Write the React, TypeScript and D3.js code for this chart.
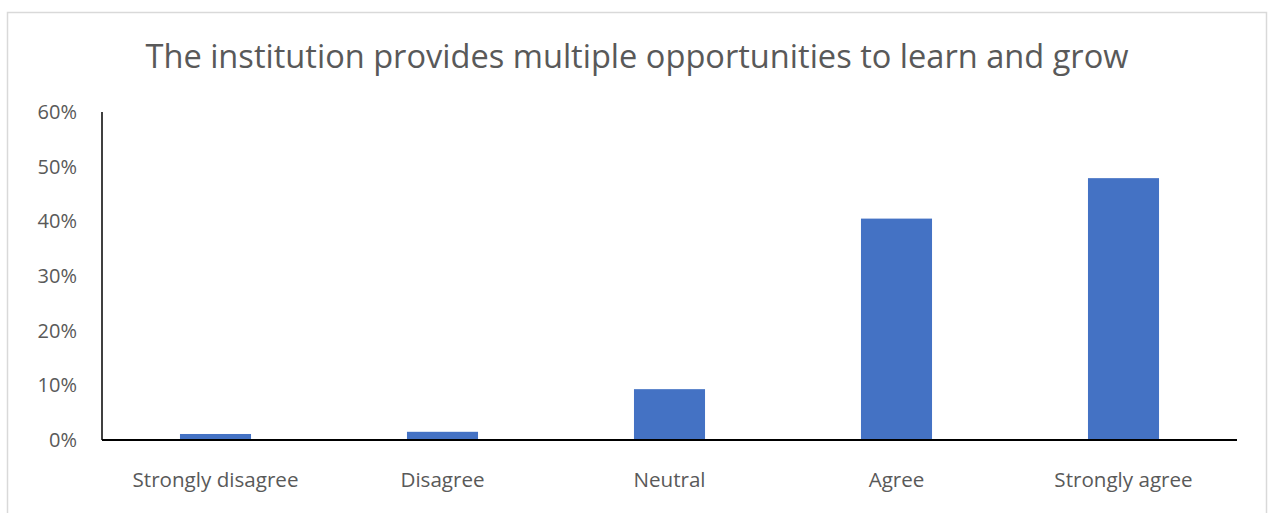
import React, { useEffect, useRef } from "react";
import * as d3 from "d3";

const categories = ["Strongly disagree", "Disagree", "Neutral", "Agree", "Strongly agree"];
const values = [0.011, 0.015, 0.093, 0.405, 0.479];
const yTicks = [0, 0.1, 0.2, 0.3, 0.4, 0.5, 0.6];
const title = "The institution provides multiple opportunities to learn and grow";

const W = 1268;
const H = 513;
const margin = { left: 102, right: 31, top: 112, bottom: 73 };
const FONT = "'Open Sans', sans-serif";
const TEXT = "#595959";

export default function App() {
  const ref = useRef<SVGSVGElement | null>(null);
  useEffect(() => {
    const svg = d3.select(ref.current);
    svg.selectAll("*").remove();

    svg.append("rect").attr("width", W).attr("height", H).attr("fill", "#fff");
    svg.append("rect")
      .attr("x", 7.5).attr("y", 12.5).attr("width", 1259).attr("height", 520)
      .attr("fill", "none").attr("stroke", "#d9d9d9").attr("stroke-width", 1.5);

    const x = d3.scaleBand<string>()
      .domain(categories)
      .range([margin.left, W - margin.right])
      .paddingInner(0.687).paddingOuter(0.3435);
    const y = d3.scaleLinear().domain([0, 0.6]).range([H - margin.bottom, margin.top]);

    svg.append("text")
      .attr("x", 637).attr("y", 68)
      .attr("text-anchor", "middle")
      .attr("font-family", FONT).attr("font-size", 32.6)
      .attr("fill", TEXT)
      .text(title);

    svg.append("g").selectAll("rect").data(values).join("rect")
      .attr("x", (_d, i) => x(categories[i])!)
      .attr("width", x.bandwidth())
      .attr("y", (d) => y(d))
      .attr("height", (d) => y(0) - y(d))
      .attr("fill", "#4472C4");

    svg.append("g").selectAll("text").data(yTicks).join("text")
      .attr("x", 77).attr("y", (d) => y(d))
      .attr("dy", "0.35em")
      .attr("text-anchor", "end")
      .attr("font-family", FONT).attr("font-size", 20)
      .attr("fill", TEXT)
      .text((d) => d3.format(".0%")(d));

    svg.append("g").selectAll("text").data(categories).join("text")
      .attr("x", (d) => x(d)! + x.bandwidth() / 2)
      .attr("y", 487)
      .attr("text-anchor", "middle")
      .attr("font-family", FONT).attr("font-size", 20.6)
      .attr("fill", TEXT)
      .text((d) => d);

    svg.append("line")
      .attr("x1", margin.left).attr("x2", margin.left)
      .attr("y1", margin.top).attr("y2", y(0))
      .attr("stroke", "#000").attr("stroke-width", 1.5);
    svg.append("line")
      .attr("x1", margin.left).attr("x2", W - margin.right)
      .attr("y1", y(0)).attr("y2", y(0))
      .attr("stroke", "#000").attr("stroke-width", 2);
  }, []);

  return (
    <svg ref={ref} width={W} height={H}
      style={{ position: "absolute", left: 0, top: 0, display: "block" }} />
  );
}
